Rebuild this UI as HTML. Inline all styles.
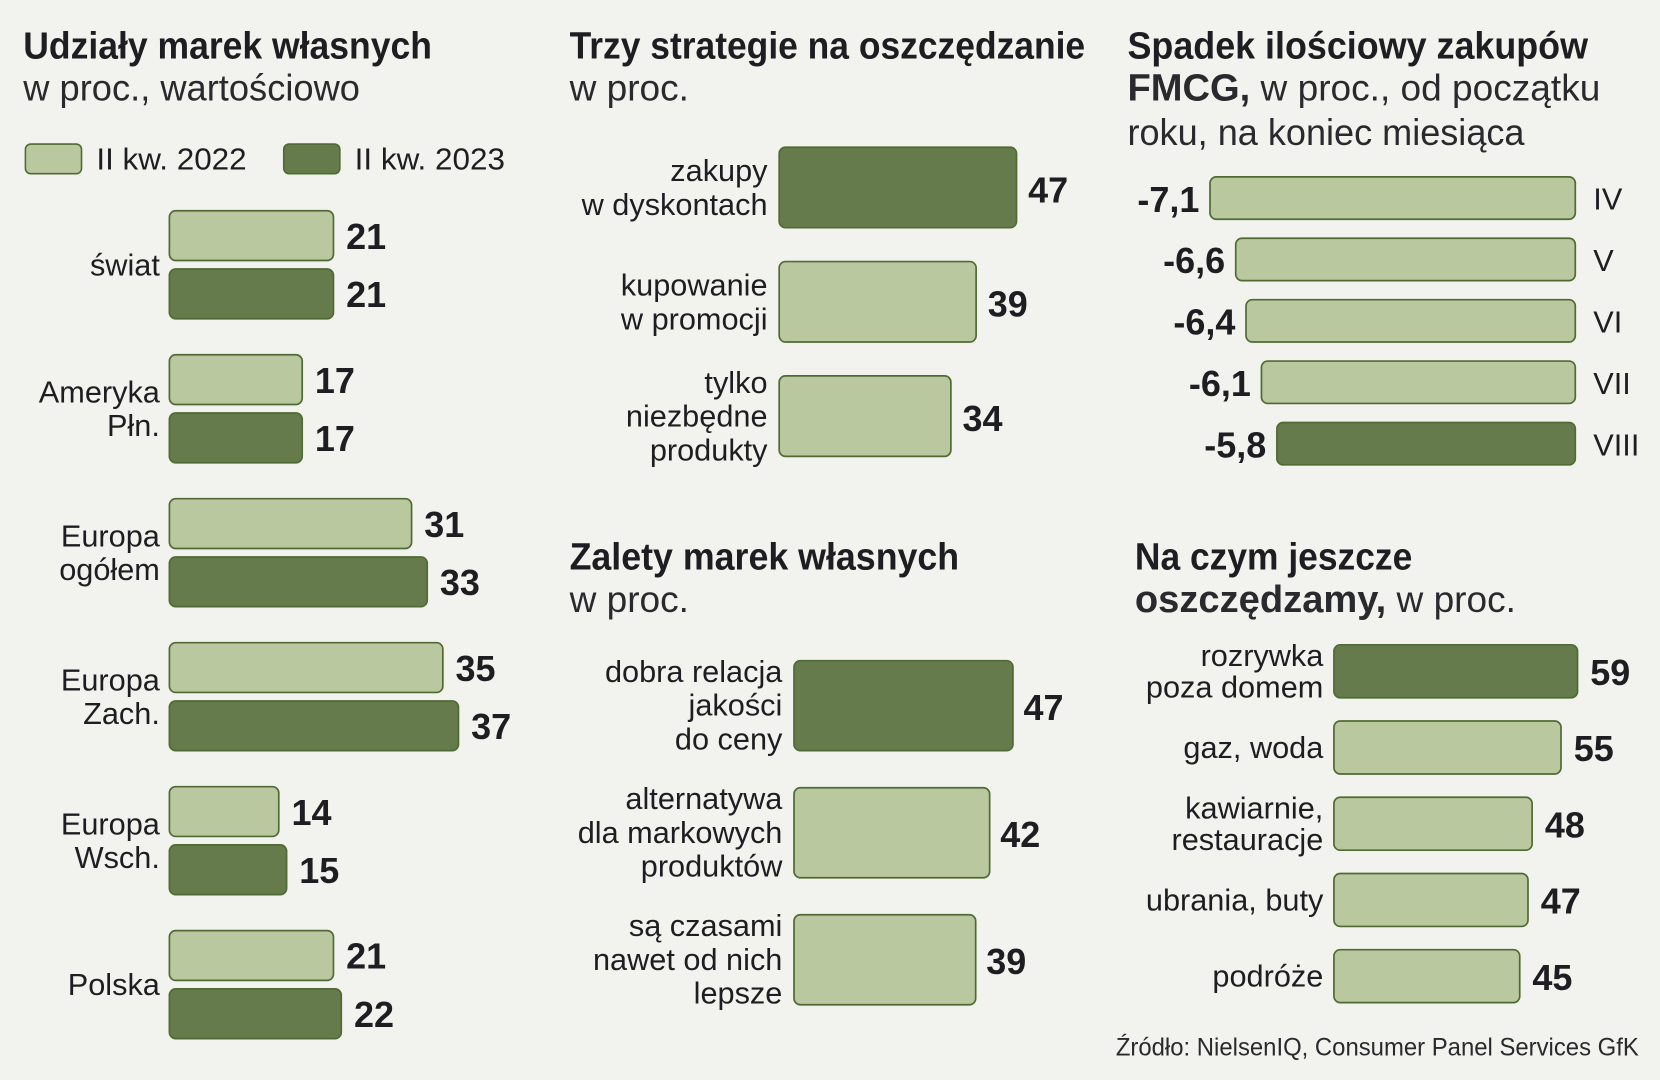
<!DOCTYPE html>
<html><head><meta charset="utf-8">
<style>
html,body{margin:0;padding:0;background:#f2f3ee;}
svg{display:block;}
text{font-family:"Liberation Sans Narrow","Liberation Sans",sans-serif;fill:#1e1e22;}
.t{font-weight:bold;font-size:36px;}
.s{font-size:35px;fill:#2a2a2e;}
.l{font-size:29px;}
.v{font-weight:bold;font-size:34px;}
</style></head>
<body>
<svg id="c" width="1660" height="1080" viewBox="0 0 1568 1020" xmlns="http://www.w3.org/2000/svg">
<rect x="0" y="0" width="1568" height="1020" fill="#f2f3ee"/>
<text class="t" x="22" y="55" textLength="386" lengthAdjust="spacingAndGlyphs">Udziały marek własnych</text>
<text class="s" x="22" y="95" textLength="318" lengthAdjust="spacingAndGlyphs">w proc., wartościowo</text>
<rect x="24" y="136" width="53" height="28" rx="5" fill="#b9c89e" stroke="#4f6b33" stroke-width="1.5"/>
<text class="l" x="91" y="160" textLength="142" lengthAdjust="spacingAndGlyphs">II kw. 2022</text>
<rect x="268" y="136" width="53" height="28" rx="5" fill="#667b4c" stroke="#4f6b33" stroke-width="1.5"/>
<text class="l" x="335" y="160" textLength="142" lengthAdjust="spacingAndGlyphs">II kw. 2023</text>

<text class="t" x="538" y="55" textLength="487" lengthAdjust="spacingAndGlyphs">Trzy strategie na oszczędzanie</text>
<text class="s" x="538" y="95">w proc.</text>

<text class="t" x="538" y="538" textLength="368" lengthAdjust="spacingAndGlyphs">Zalety marek własnych</text>
<text class="s" x="538" y="578">w proc.</text>

<text class="t" x="1065" y="55" textLength="435" lengthAdjust="spacingAndGlyphs">Spadek ilościowy zakupów</text>
<text class="s" x="1065" y="95"><tspan class="t" style="font-size:36px">FMCG,</tspan> w proc., od początku</text>
<text class="s" x="1065" y="137" textLength="375" lengthAdjust="spacingAndGlyphs">roku, na koniec miesiąca</text>

<text class="t" x="1072" y="538" textLength="262" lengthAdjust="spacingAndGlyphs">Na czym jeszcze</text>
<text class="s" x="1072" y="578"><tspan class="t" style="font-size:36px">oszczędzamy,</tspan> w proc.</text>

<text x="1548" y="997" text-anchor="end" style="font-size:24px;fill:#2a2a2e" textLength="494" lengthAdjust="spacingAndGlyphs">Źródło: NielsenIQ, Consumer Panel Services GfK</text>
</svg>
<script>
const regions = [["świat"],["Ameryka","Płn."],["Europa","ogółem"],["Europa","Zach."],["Europa","Wsch."],["Polska"]];
const share2022 = [21,17,31,35,14,21];
const share2023 = [21,17,33,37,15,22];

const strategyLabels = [["zakupy","w dyskontach"],["kupowanie","w promocji"],["tylko","niezbędne","produkty"]];
const strategyValues = [47,39,34];

const advantageLabels = [["dobra relacja","jakości","do ceny"],["alternatywa","dla markowych","produktów"],["są czasami","nawet od nich","lepsze"]];
const advantageValues = [47,42,39];

const months = ["IV","V","VI","VII","VIII"];
const declineValues = [-7.1,-6.6,-6.4,-6.1,-5.8];

const savingLabels = [["rozrywka","poza domem"],["gaz, woda"],["kawiarnie,","restauracje"],["ubrania, buty"],["podróże"]];
const savingValues = [59,55,48,47,45];

const NS = "http://www.w3.org/2000/svg";
const svg = document.getElementById('c');
const LIGHT = "#b9c89e", DARK = "#667b4c", STROKE = "#4f6b33";

function mk(tag, attrs){ const e=document.createElementNS(NS,tag); for(const k in attrs) e.setAttribute(k,attrs[k]); svg.appendChild(e); return e; }
function bar(x,y,w,h,fill,name){
  const r = mk('rect',{x:x,y:y,width:Math.max(w,0),height:h,rx:6,fill:fill,stroke:STROKE,'stroke-width':1.6});
  
  
  return r;
}
function txt(s,x,y,cls,anchor,name){
  const t = mk('text',{x:x,y:y,'class':cls,'text-anchor':anchor||'start'});
  t.textContent = s;
  
  
  return t;
}
function labelLines(lines,x,cy,lh,name){
  const n=lines.length, top = cy - (n-1)*lh/2 + 10;
  lines.forEach((ln,i)=>txt(ln,x,top+i*lh,'l','end',name));
}

// Chart 1: shares
const x1 = v => 160 + v*7.38;
regions.forEach((lab,i)=>{
  const gy = 199 + i*136;
  bar(160,gy,x1(share2022[i])-160,47,LIGHT,'bar-2022-'+i);
  bar(160,gy+55,x1(share2023[i])-160,47,DARK,'bar-2023-'+i);
  txt(String(share2022[i]),x1(share2022[i])+12,gy+36,'v','start','value-2022-'+i);
  txt(String(share2023[i]),x1(share2023[i])+12,gy+91,'v','start','value-2023-'+i);
  labelLines(lab,151,gy+51,32,'region-label');
});

// Chart 2: strategies
const x2 = v => 736 + v*4.77;
strategyValues.forEach((v,i)=>{
  const y = 139 + i*108;
  bar(736,y,x2(v)-736,76,i===0?DARK:LIGHT,'strategy-bar-'+i);
  txt(String(v),x2(v)+11,y+52,'v','start','strategy-value-'+i);
  labelLines(strategyLabels[i],725,y+38,32,'strategy-label');
});

// Chart 3: advantages
const x3 = v => 750 + v*4.4;
advantageValues.forEach((v,i)=>{
  const y = 624 + i*120;
  bar(750,y,x3(v)-750,85,i===0?DARK:LIGHT,'advantage-bar-'+i);
  txt(String(v),x3(v)+10,y+56,'v','start','advantage-value-'+i);
  labelLines(advantageLabels[i],739,y+42,32,'advantage-label');
});

// Chart 4: decline (right aligned)
const xr = 1488;
const x4 = v => xr - Math.abs(v)*48.6;
declineValues.forEach((v,i)=>{
  const y = 167 + i*58;
  bar(x4(v),y,xr-x4(v),40,i===4?DARK:LIGHT,'decline-bar-'+months[i]);
  txt(String(v).replace('.',','),x4(v)-10,y+33,'v','end','decline-value-'+months[i]);
  txt(months[i],1505,y+31,'l','start','month-label-'+months[i]);
});

// Chart 5: savings
const x5 = v => 1260 + v*3.9;
savingValues.forEach((v,i)=>{
  const y = 609 + i*72;
  bar(1260,y,x5(v)-1260,50,i===0?DARK:LIGHT,'saving-bar-'+i);
  txt(String(v),x5(v)+12,y+38,'v','start','saving-value-'+i);
  labelLines(savingLabels[i],1250,y+25,30,'saving-label');
});
</script>
</body></html>
